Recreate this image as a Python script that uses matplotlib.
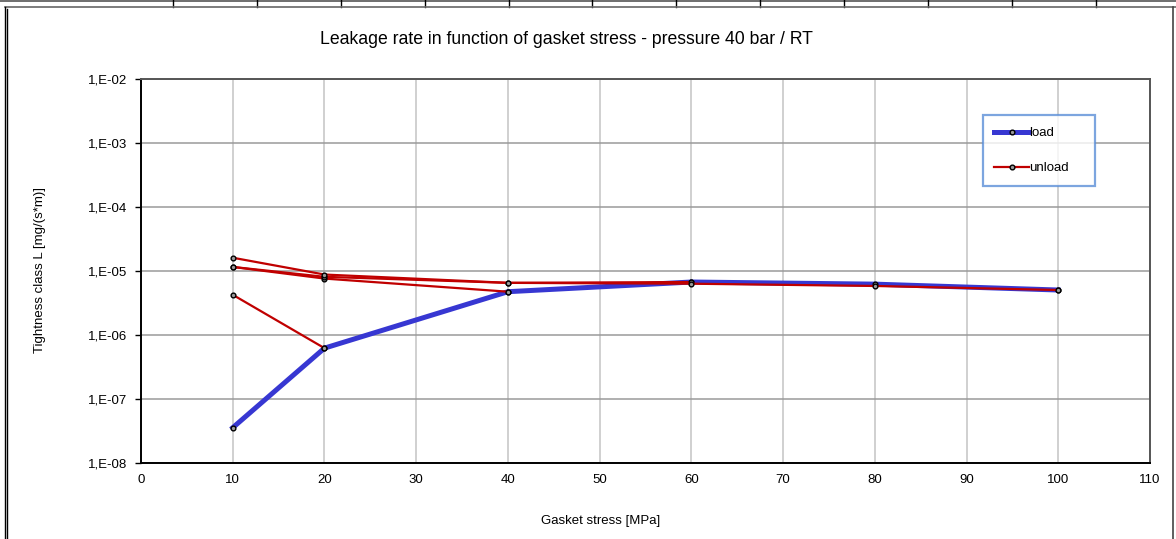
import numpy as np
import matplotlib
matplotlib.use("Agg")
import matplotlib.pyplot as plt
from matplotlib.lines import Line2D
from matplotlib.ticker import FuncFormatter, FixedLocator

plt.rcParams['font.family'] = ['Liberation Sans', 'DejaVu Sans']

# data
stress_load = [10, 20, 40, 60, 80, 100]
leak_load = [3.6e-8, 6.3e-7, 4.8e-6, 6.8e-6, 6.3e-6, 5.1e-6]

# unloading paths (each starts from a load step and goes back down)
unload_stress = [
    [20, 10],
    [40, 20, 10],
    [60, 40, 20, 10],
    [100, 80, 60, 40, 20, 10],
]
unload_leak = [
    [6.3e-7, 4.3e-6],
    [4.8e-6, 7.7e-6, 1.17e-5],
    [6.8e-6, 6.6e-6, 8.2e-6, 1.17e-5],
    [5.1e-6, 5.9e-6, 6.4e-6, 6.6e-6, 8.9e-6, 1.63e-5],
]

W, H = 1176, 539
fig = plt.figure(figsize=(W / 100, H / 100), dpi=100)
ax = fig.add_axes([141 / W, 1 - 463.3 / H, (1150 - 141) / W, (463.3 - 79.3) / H])

ax.plot(stress_load, leak_load, color='#3737d2', lw=3.6, marker='o', ms=3.4,
        mfc='#9a9a9a', mec='black', mew=1.0, label='load', zorder=3)
for i, (xs, ys) in enumerate(zip(unload_stress, unload_leak)):
    ax.plot(xs, ys, color='#c00000', lw=1.6, marker='o', ms=3.4,
            mfc='#9a9a9a', mec='black', mew=1.0,
            label='unload' if i == 0 else None, zorder=4)

ax.set_yscale('log')
ax.set_ylim(1e-8, 1e-2)
ax.set_xlim(0, 110)
ax.xaxis.set_major_locator(FixedLocator(np.arange(0, 111, 10)))
ax.yaxis.set_major_locator(FixedLocator([1e-8, 1e-7, 1e-6, 1e-5, 1e-4, 1e-3, 1e-2]))
ax.yaxis.set_minor_locator(FixedLocator([]))
ax.yaxis.set_major_formatter(FuncFormatter(lambda v, p: "1,E%+03d" % int(round(np.log10(v)))))

ax.grid(True, axis='x', color='#c4c4c4', lw=1.1)
ax.grid(True, axis='y', color='#9a9a9a', lw=1.1)
ax.set_axisbelow(True)

ax.tick_params(axis='x', length=0, pad=8, labelsize=9.5)
ax.tick_params(axis='y', length=4, width=1, direction='out', pad=6, labelsize=9.5)
for s in ['left', 'bottom']:
    ax.spines[s].set_color('black')
    ax.spines[s].set_linewidth(1.4)
for s in ['top', 'right']:
    ax.spines[s].set_color('#555555')
    ax.spines[s].set_linewidth(1.4)

leg = ax.legend(loc='upper left', bbox_to_anchor=(0.834, 0.725, 0.1115, 0.182),
                mode='expand', fontsize=9.5,
                frameon=True, fancybox=False, numpoints=1, handlelength=2.6,
                handletextpad=0.05, labelspacing=1.75, borderpad=0.9,
                borderaxespad=0)
leg.get_frame().set_edgecolor('#5b8fd8')
leg.get_frame().set_linewidth(1.6)

fig.text(566 / W, 1 - 40 / H, 'Leakage rate in function of gasket stress - pressure 40 bar / RT',
         ha='center', va='center', fontsize=12.7)
fig.text(601 / W, 1 - 521 / H, 'Gasket stress [MPa]', ha='center', va='center', fontsize=9.5)
fig.text(40 / W, 1 - 270 / H, 'Tightness class L [mg/(s*m)]', ha='center', va='center',
         rotation=90, fontsize=9.5)

# spreadsheet frame around the chart
def fline(x0, y0, x1, y1, c='black', lw=1.0):
    fig.add_artist(Line2D([x0 / W, x1 / W], [1 - y0 / H, 1 - y1 / H], color=c, lw=lw))

fline(0, 1, W, 1, '#555555', 1.2)
for xv in [173, 257, 341, 425, 509, 592, 676, 760, 844, 928, 1012, 1096]:
    fline(xv, 0, xv, 7, 'black', 1.0)
fline(4.7, 7, W, 7, '#666666', 1.2)
fline(4.7, 7, 4.7, H, 'black', 1.0)
fline(7.3, 9, 7.3, H, 'black', 1.0)
fline(1172.7, 7, 1172.7, H, '#444444', 1.2)

fig.savefig('out.png', dpi=100)
